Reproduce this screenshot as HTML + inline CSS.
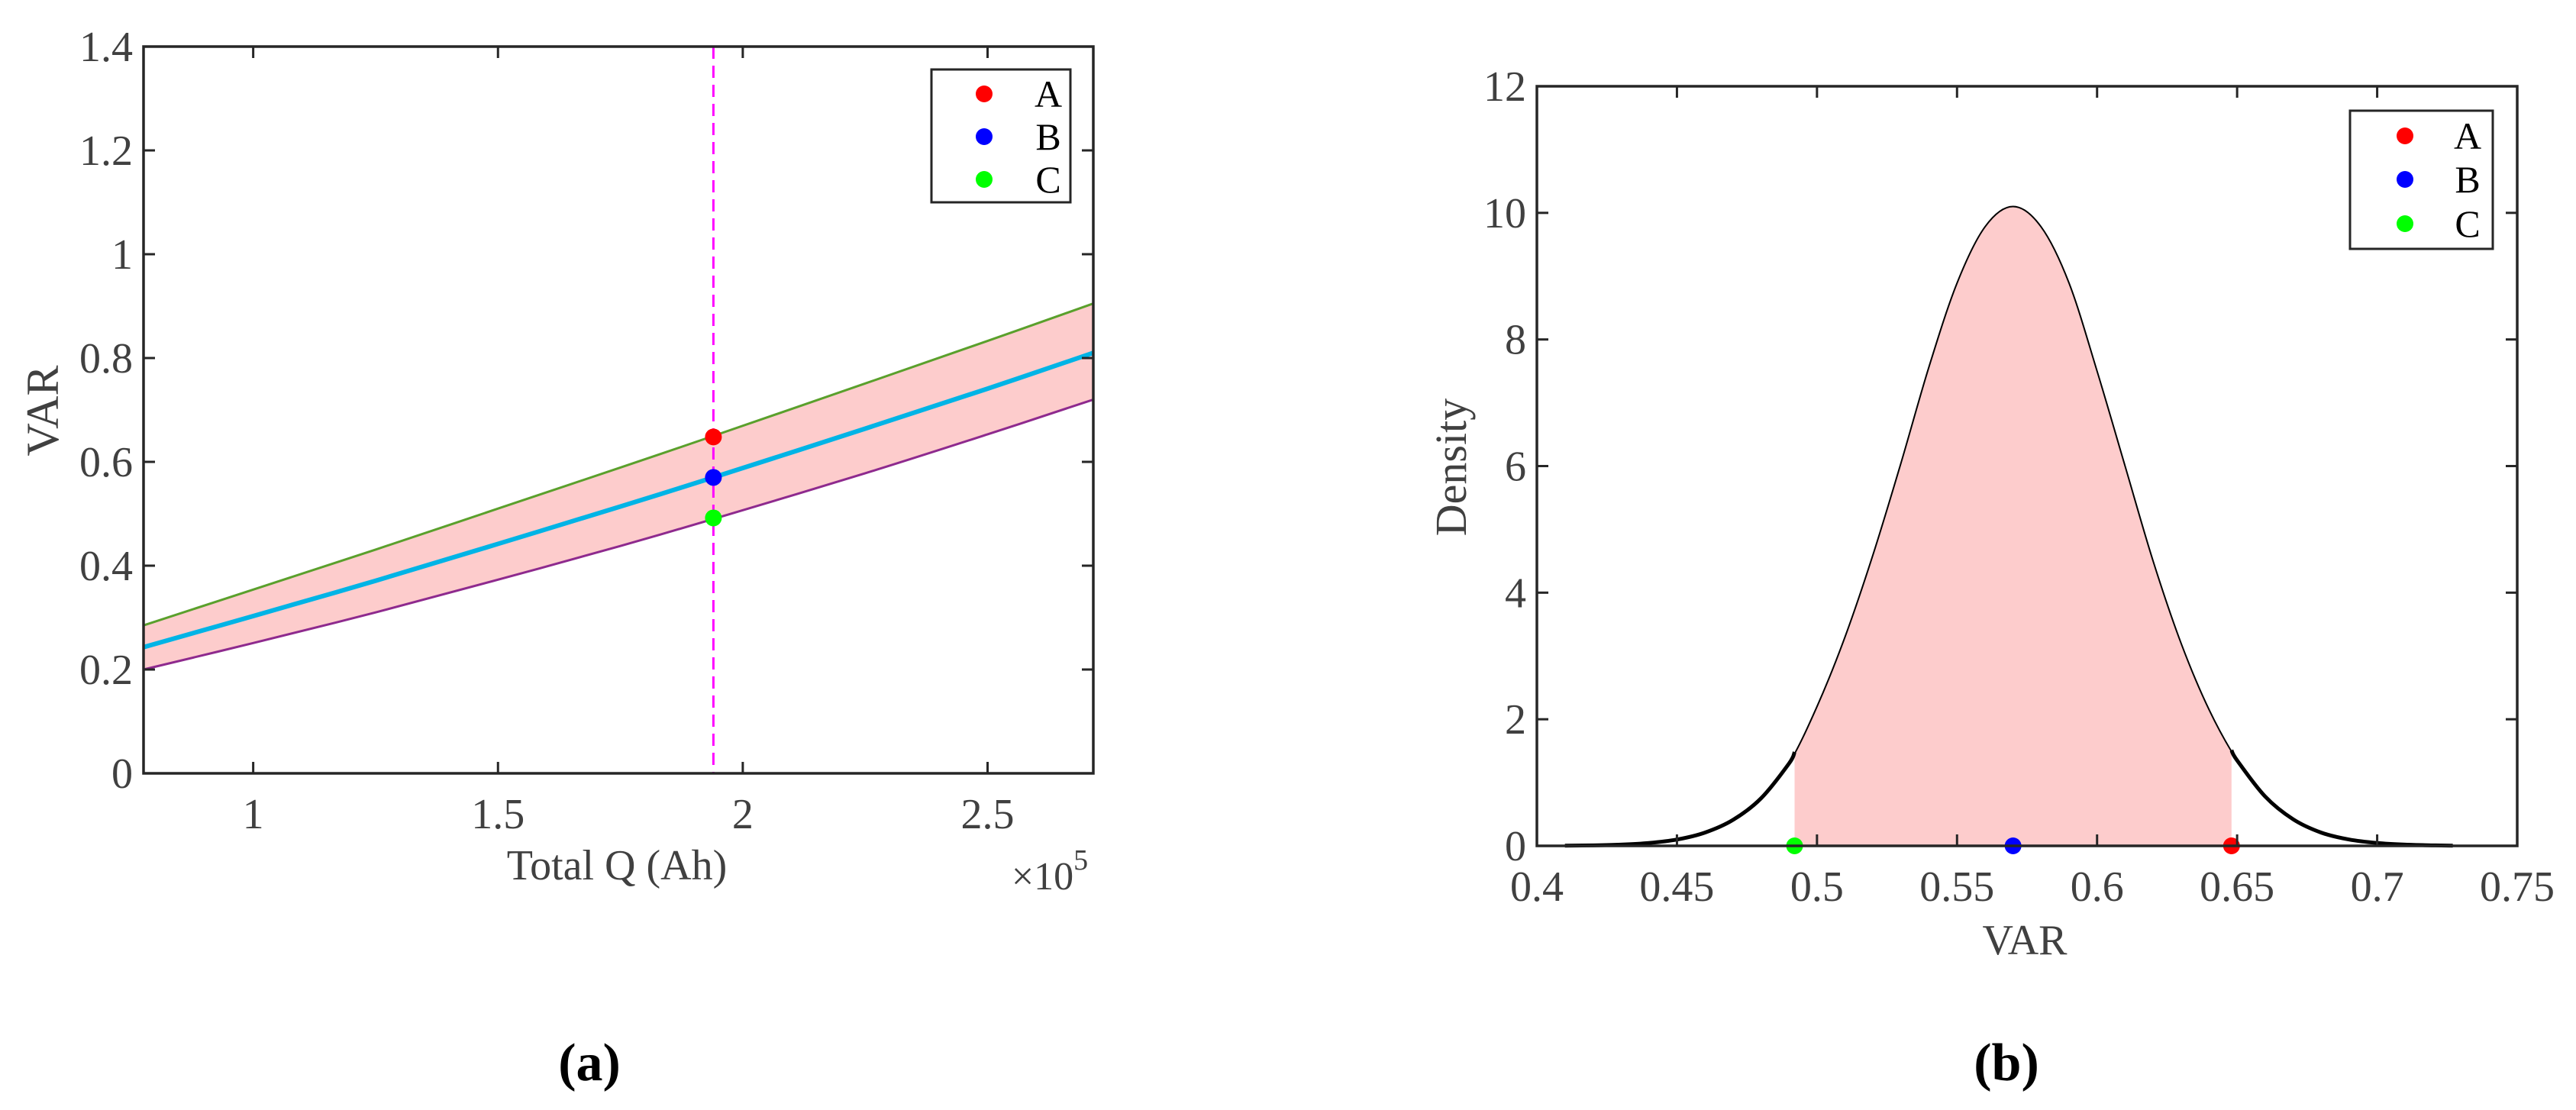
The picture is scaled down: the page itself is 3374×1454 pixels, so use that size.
<!DOCTYPE html>
<html><head><meta charset="utf-8"><style>
html,body{margin:0;padding:0;background:#fff;}
svg{display:block;}
text{font-family:"Liberation Serif",serif;}
</style></head><body>
<svg id="s" width="3374" height="1454" viewBox="0 0 3374 1454" xmlns="http://www.w3.org/2000/svg">
<g id="pa"></g>
<g id="pb"></g>
</svg>
<script>
// Panel (a) data
const aQ = [0.776, 1.0, 1.25, 1.5, 1.75, 1.94, 2.25, 2.5, 2.716];
const aMean = [0.243, 0.303, 0.371, 0.442, 0.514, 0.570, 0.664, 0.741, 0.810];
const aUpper = [0.285, 0.354, 0.431, 0.510, 0.589, 0.650, 0.751, 0.833, 0.905];
const aLower = [0.200, 0.251, 0.310, 0.373, 0.438, 0.490, 0.578, 0.653, 0.720];
const aVline = 1.94;
const aPoints = [0.648, 0.570, 0.492];
const aXTicks = [1, 1.5, 2, 2.5];
const aXTickLabels = ["1", "1.5", "2", "2.5"];
const aYTicks = [0, 0.2, 0.4, 0.6, 0.8, 1, 1.2, 1.4];
const aYTickLabels = ["0", "0.2", "0.4", "0.6", "0.8", "1", "1.2", "1.4"];
// Panel (b) data
const bX = [0.41,0.42,0.43,0.44,0.45,0.46,0.47,0.48,0.49,0.50,0.51,0.52,0.53,0.54,0.55,0.56,0.57,0.58,0.59,0.60,0.61,0.62,0.63,0.64,0.65,0.66,0.67,0.68,0.69,0.70,0.71,0.72,0.727];
const bDensity = [0.003,0.0075,0.019,0.045,0.10,0.21,0.41,0.75,1.30,2.20,3.30,4.60,6.05,7.57,8.89,9.78,10.1,9.78,8.89,7.50,6.00,4.50,3.20,2.15,1.35,0.78,0.42,0.21,0.10,0.045,0.019,0.0075,0.003];
const bLo = 0.492, bHi = 0.648;
const bPoints = [0.648, 0.570, 0.492];
const bXTicks = [0.4,0.45,0.5,0.55,0.6,0.65,0.7,0.75];
const bXTickLabels = ["0.4","0.45","0.5","0.55","0.6","0.65","0.7","0.75"];
const bYTicks = [0,2,4,6,8,10,12];
const bYTickLabels = ["0","2","4","6","8","10","12"];
const colors = ["#ff0000","#0000ff","#00ff00"];
const names = ["A","B","C"];

const NS = "http://www.w3.org/2000/svg";
function mk(parent, tag, attrs){const e=document.createElementNS(NS,tag);for(const k in attrs)e.setAttribute(k,attrs[k]);parent.appendChild(e);return e;}
// Catmull-Rom smooth path through pixel points
function smooth(pts, start){
  let d=(start?'M':'L')+pts[0][0]+','+pts[0][1];
  for(let i=0;i<pts.length-1;i++){
    const p0=pts[Math.max(0,i-1)],p1=pts[i],p2=pts[i+1],p3=pts[Math.min(pts.length-1,i+2)];
    const c1=[p1[0]+(p2[0]-p0[0])/6,p1[1]+(p2[1]-p0[1])/6];
    const c2=[p2[0]-(p3[0]-p1[0])/6,p2[1]-(p3[1]-p1[1])/6];
    d+='C'+c1[0]+','+c1[1]+' '+c2[0]+','+c2[1]+' '+p2[0]+','+p2[1];
  }
  return d;
}

function axes(g, L, T, R, B, xs, ys, xt, xtl, yt, ytl){
  for(let i=0;i<xt.length;i++){
    const x=xs(xt[i]);
    const t=mk(g,'line',{x1:x,y1:B,x2:x,y2:B-15,stroke:'#262626','stroke-width':3});
    
    const t2=mk(g,'line',{x1:x,y1:T,x2:x,y2:T+15,stroke:'#262626','stroke-width':3});
    
    const tx=mk(g,'text',{x:x,y:B+72,'text-anchor':'middle','font-size':56,fill:'#404040'});
    tx.textContent=xtl[i];
    
  }
  for(let i=0;i<yt.length;i++){
    const y=ys(yt[i]);
    const t=mk(g,'line',{x1:L,y1:y,x2:L+15,y2:y,stroke:'#262626','stroke-width':3});
    
    const t2=mk(g,'line',{x1:R,y1:y,x2:R-15,y2:y,stroke:'#262626','stroke-width':3});
    
    const tx=mk(g,'text',{x:L-14,y:y+19,'text-anchor':'end','font-size':56,fill:'#404040'});
    tx.textContent=ytl[i];
    
  }
  const f=mk(g,'rect',{x:L,y:T,width:R-L,height:B-T,fill:'none',stroke:'#262626','stroke-width':3.5});
  
}
function legend(g,x,y,w,h,mx,tx,rows){
  const r=mk(g,'rect',{x:x,y:y,width:w,height:h,fill:'#fff',stroke:'#262626','stroke-width':3});
  
  for(let i=0;i<3;i++){
    const c=mk(g,'circle',{cx:mx,cy:rows[i],r:11,fill:colors[i]});
    
    const t=mk(g,'text',{x:tx,y:rows[i]+17,'text-anchor':'middle','font-size':50,fill:'#000'});
    t.textContent=names[i];
    
  }
}
function lbl(g,txt,x,y,size,name,opts){
  const t=mk(g,'text',Object.assign({x:x,y:y,'text-anchor':'middle','font-size':size,fill:'#404040'},opts||{}));
  t.textContent=txt;return t;
}

// ---- Panel A ----
(function(){
  const g=document.getElementById('pa');
  const L=188,T=61,R=1432,B=1013, x0=0.776,x1=2.716,y0=0,y1=1.4;
  const xs=v=>L+(v-x0)/(x1-x0)*(R-L), ys=v=>B-(v-y0)/(y1-y0)*(B-T);
  const up=aQ.map((q,i)=>[xs(q),ys(aUpper[i])]);
  const lo=aQ.map((q,i)=>[xs(q),ys(aLower[i])]).reverse();
  const band=mk(g,'path',{d:smooth(up,true)+smooth(lo,false)+'Z',fill:'#fdcccc'});
  
  const pl=(arr,col,w,name)=>{const p=mk(g,'path',{d:smooth(aQ.map((q,i)=>[xs(q),ys(arr[i])]),true),fill:'none',stroke:col,'stroke-width':w});
    };
  pl(aUpper,'#5aa02c',3,'upper-bound-line');
  pl(aLower,'#8e2a8e',3,'lower-bound-line');
  pl(aMean,'#00b4e6',6,'mean-line');
  const vl=mk(g,'line',{x1:xs(aVline),y1:T,x2:xs(aVline),y2:B,stroke:'#ff00ff','stroke-width':3,'stroke-dasharray':'16 9'});
  
  aPoints.forEach((v,i)=>{const c=mk(g,'circle',{cx:xs(aVline),cy:ys(v),r:11,fill:colors[i]});
    });
  axes(g,L,T,R,B,xs,ys,aXTicks,aXTickLabels,aYTicks,aYTickLabels);
  legend(g,1220,91,182,174,1289,1373,[123,179,235]);
  lbl(g,'Total Q (Ah)',808,1152,56,'x-axis-title');
  const ex=lbl(g,'',1375,1165,52,'x-exponent-label');
  ex.innerHTML='×10<tspan dy="-26" font-size="38">5</tspan>';
  lbl(g,'VAR',0,0,60,'y-axis-title',{transform:'translate(76,538) rotate(-90)'});
  lbl(g,'(a)',772,1415,70,'panel-a-caption',{'font-weight':'bold',fill:'#000'});
})();

// ---- Panel B ----
(function(){
  const g=document.getElementById('pb');
  const L=2013,T=113,R=3297,B=1108, x0=0.4,x1=0.75,y0=0,y1=12;
  const xs=v=>L+(v-x0)/(x1-x0)*(R-L), ys=v=>B-(v-y0)/(y1-y0)*(B-T);
  const interp=v=>{for(let i=1;i<bX.length;i++){if(v<=bX[i]){const t=(v-bX[i-1])/(bX[i]-bX[i-1]);return bDensity[i-1]+t*(bDensity[i]-bDensity[i-1]);}}return bDensity[bDensity.length-1];};
  const mid=[[xs(bLo),ys(interp(bLo))]];
  bX.forEach((x,i)=>{if(x>bLo&&x<bHi)mid.push([xs(x),ys(bDensity[i])]);});
  mid.push([xs(bHi),ys(interp(bHi))]);
  const f=mk(g,'path',{d:'M'+xs(bLo)+','+ys(0)+smooth(mid,false)+'L'+xs(bHi)+','+ys(0)+'Z',fill:'#fdcccc'});
  
  const c=mk(g,'path',{d:smooth(bX.map((x,i)=>[xs(x),ys(bDensity[i])]),true),fill:'none',stroke:'#000','stroke-width':2});
  
  const tailL=[];bX.forEach((x,i)=>{if(x<bLo)tailL.push([xs(x),ys(bDensity[i])]);});tailL.push([xs(bLo),ys(interp(bLo))]);
  const tailR=[[xs(bHi),ys(interp(bHi))]];bX.forEach((x,i)=>{if(x>bHi)tailR.push([xs(x),ys(bDensity[i])]);});
  [tailL,tailR].forEach((t,k)=>{const p=mk(g,'path',{d:smooth(t,true),fill:'none',stroke:'#000','stroke-width':5});
    });
  bPoints.forEach((v,i)=>{const m=mk(g,'circle',{cx:xs(v),cy:ys(0),r:11,fill:colors[i]});
    });
  axes(g,L,T,R,B,xs,ys,bXTicks,bXTickLabels,bYTicks,bYTickLabels);
  legend(g,3078,145,187,181,3150,3232,[178,235,293]);
  lbl(g,'VAR',2652,1250,56,'x-axis-title');
  lbl(g,'Density',0,0,58,'y-axis-title',{transform:'translate(1920,612) rotate(-90)'});
  lbl(g,'(b)',2628,1415,70,'panel-b-caption',{'font-weight':'bold',fill:'#000'});
})();
</script>
</body></html>
